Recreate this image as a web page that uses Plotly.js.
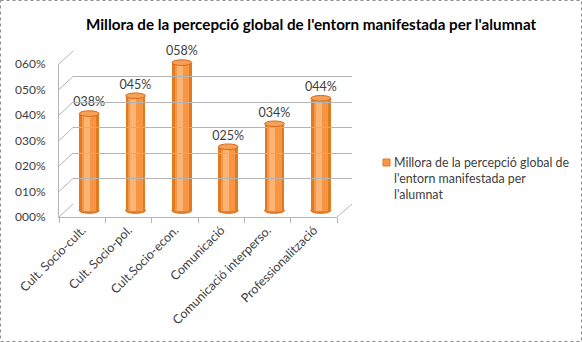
<!DOCTYPE html>
<html>
<head>
<meta charset="utf-8">
<script src="https://cdn.plot.ly/plotly-3.0.1.min.js"></script>
<style>html,body{margin:0;padding:0;background:#fff;}#chart{width:582px;height:342px;}</style>
</head>
<body>
<div id="chart"></div>
<script>
// ---- data ----
const categories = ["Cult. Socio-cult.", "Cult. Socio-pol.", "Cult.Socio-econ.", "Comunicació", "Comunicació interperso.", "Professionalització"];
const values = [0.38, 0.45, 0.58, 0.25, 0.34, 0.44];
const valueLabels = ["038%", "045%", "058%", "025%", "034%", "044%"];
const yTickValues = [0, 0.1, 0.2, 0.3, 0.4, 0.5, 0.6];
const yTickLabels = ["000%", "010%", "020%", "030%", "040%", "050%", "060%"];
const seriesName = "Millora de la percepció global de<br>l'entorn manifestada per<br>l'alumnat";
const chartTitle = "Millora de la percepció global de l'entorn manifestada per l'alumnat";

// ---- layout helpers (pixel -> paper) ----
const W = 582, H = 342;
const px = x => x / W;
const py = y => 1 - y / H;
const FONT = "Lato, 'Open Sans', sans-serif";
const GRID = "#B4B4B4";

// cylinder plane: 0 at 210.5px, 0.6 at 57.5px
const yMin = -0.03;
const barDomBottom = 210.5 + (0 - yMin) * 255;

const traces = [
  {type: "bar", x: categories, y: values, width: 0.43, marker: {color: "#E27A22"}, xaxis: "x", yaxis: "y", showlegend: false, hoverinfo: "skip"},
  {type: "bar", x: categories, y: values, width: 0.31, marker: {color: "#F69644"}, xaxis: "x", yaxis: "y", showlegend: false, hoverinfo: "skip"},
  {type: "bar", x: categories, y: values, width: 0.13, offset: -0.11, marker: {color: "#FBB474"}, xaxis: "x", yaxis: "y", showlegend: false, hoverinfo: "skip"},
  {type: "scatter", mode: "markers+text", x: categories, y: values, text: valueLabels, textposition: "top center",
   marker: {size: 5, opacity: 0},
   textfont: {family: FONT, size: 12.5, color: "#404040"}, cliponaxis: false, xaxis: "x", yaxis: "y", showlegend: false, hoverinfo: "skip"},
  {type: "scatter", mode: "markers", x: categories, y: values, marker: {opacity: 0}, xaxis: "x2", yaxis: "y2", showlegend: false, hoverinfo: "skip"},
  {type: "scatter", mode: "markers", x: categories, y: values, marker: {opacity: 0}, xaxis: "x3", yaxis: "y3", showlegend: false, hoverinfo: "skip"}
];

const shapes = [];
// outer border
shapes.push({type: "rect", xref: "paper", yref: "paper", x0: px(0.5), x1: px(581.5), y0: py(0.5), y1: py(341.5),
  line: {color: "#8C8C8C", width: 1, dash: "dot"}});
// left wall diagonals
yTickValues.forEach(v => {
  const yf = 217 - v / 0.6 * 153, yb = 204 - v / 0.6 * 153;
  shapes.push({type: "line", xref: "paper", yref: "paper", x0: px(59), y0: py(yf), x1: px(73), y1: py(yb), line: {color: GRID, width: 1}});
});
// floor right diagonal
shapes.push({type: "line", xref: "paper", yref: "paper", x0: px(337), y0: py(217), x1: px(352), y1: py(204), line: {color: GRID, width: 1}});
// cylinder caps and bases
values.forEach((v, i) => {
  shapes.push({type: "circle", xref: "x", yref: "y", layer: "below", x0: i - 0.215, x1: i + 0.215, y0: -0.011, y1: 0.011,
    fillcolor: "#E8842E", line: {color: "#D0661A", width: 1}});
  shapes.push({type: "circle", xref: "x", yref: "y", layer: "above", x0: i - 0.215, x1: i + 0.215, y0: v - 0.011, y1: v + 0.011,
    fillcolor: "#F8A055", line: {color: "#D46A1C", width: 1}});
});
// legend swatch
shapes.push({type: "rect", xref: "paper", yref: "paper", x0: px(383), x1: px(390), y0: py(166), y1: py(159),
  fillcolor: "#F79646", line: {color: "#E0761E", width: 1}});

const layout = {
  width: W, height: H,
  margin: {l: 0, r: 0, t: 0, b: 0},
  paper_bgcolor: "#fff", plot_bgcolor: "rgba(0,0,0,0)",
  barmode: "overlay", bargap: 0,
  hovermode: false,
  showlegend: false,
  font: {family: FONT, size: 12, color: "#404040"},
  xaxis: {domain: [px(66), px(344)], anchor: "y", type: "category", range: [-0.5, 5.5], visible: false},
  yaxis: {domain: [py(barDomBottom), py(57.5)], anchor: "x", range: [yMin, 0.6], visible: false},
  xaxis2: {domain: [px(59), px(337)], anchor: "y2", type: "category", range: [-0.5, 5.5],
    tickangle: -45, showline: true, linecolor: GRID, ticks: "outside", ticklen: 5, tickcolor: GRID, tickson: "boundaries",
    showgrid: false, zeroline: false, tickfont: {family: FONT, size: 12.5, color: "#404040"}},
  yaxis2: {domain: [py(217), py(64)], anchor: "x2", range: [0, 0.6], tickvals: yTickValues, ticktext: yTickLabels,
    showline: true, linecolor: GRID, showgrid: false, zeroline: false, ticks: "", ticklabelstandoff: 10,
    tickfont: {family: FONT, size: 12, color: "#404040"}},
  xaxis3: {domain: [px(73), px(352)], anchor: "y3", type: "category", range: [-0.5, 5.5], visible: false},
  yaxis3: {domain: [py(204), py(51)], anchor: "x3", range: [0, 0.6], tickvals: yTickValues, showticklabels: false,
    showgrid: true, gridcolor: GRID, gridwidth: 1, zeroline: false, showline: false, ticks: ""},
  shapes: shapes,
  annotations: [
    {xref: "paper", yref: "paper", x: px(311), y: py(24), xanchor: "center", yanchor: "middle", showarrow: false,
     text: "<b>" + chartTitle + "</b>", font: {family: FONT, size: 15.2, color: "#000"}},
    {xref: "paper", yref: "paper", x: px(392), y: py(153), xanchor: "left", yanchor: "top", align: "left", showarrow: false,
     text: seriesName, font: {family: FONT, size: 12.4, color: "#404040"}}
  ]
};

Plotly.newPlot("chart", traces, layout, {displayModeBar: false, staticPlot: true});
</script>
</body>
</html>
